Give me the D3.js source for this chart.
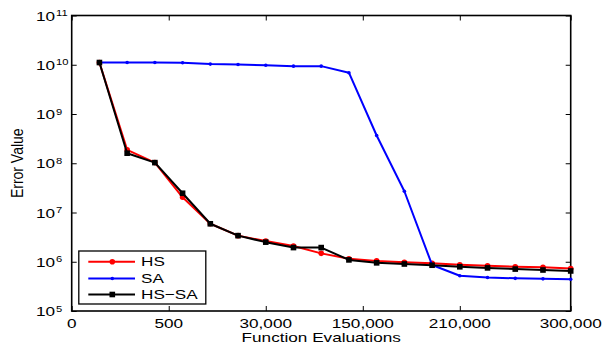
<!DOCTYPE html>
<html>
<head>
<meta charset="utf-8">
<script src="https://cdn.jsdelivr.net/npm/d3@7"></script>
<style>
  html, body { margin: 0; padding: 0; background: #fff; }
  svg { display: block; font-family: "Liberation Sans", Arial, Helvetica, sans-serif; }
</style>
</head>
<body>
<svg id="chart" width="607" height="352"></svg>
<script>
// Sample positions (checkpoint index along the run)
const checkpoints = d3.range(1, 19);

// Tick positions on the index axis and the evaluation counts they stand for
const xTickPositions = [0, 3.5, 7, 10.5, 14, 18];
const xTickLabels = ["0", "500", "30,000", "150,000", "210,000", "300,000"];

// Decade ticks on the error axis
const yTickExponents = [5, 6, 7, 8, 9, 10, 11];

const seriesNames = ["HS", "SA", "HS\u2212SA"];

const hsValues = [1.11e10, 1.87e8, 1.03e8, 2.04e7, 5.9e6, 3.39e6, 2.63e6, 2.09e6, 1.48e6,
                  1.15e6, 1.04e6, 9.8e5, 9.3e5, 8.7e5, 8.3e5, 7.9e5, 7.7e5, 7.3e5];
const saValues = [1.11e10, 1.11e10, 1.11e10, 1.1e10, 1.03e10, 1.01e10, 9.8e9, 9.37e9, 9.37e9,
                  6.9e9, 3.66e8, 2.7e7, 8.6e5, 5.2e5, 4.8e5, 4.6e5, 4.5e5, 4.4e5];
const hssaValues = [1.11e10, 1.6e8, 1.03e8, 2.46e7, 5.9e6, 3.39e6, 2.5e6, 1.94e6, 1.94e6,
                    1.09e6, 9.5e5, 9.0e5, 8.5e5, 7.9e5, 7.5e5, 7.1e5, 6.8e5, 6.5e5];

const svg = d3.select("#chart");
const plotLeft = 71.7, plotRight = 570.7, plotTop = 15.5, plotBottom = 311;
const stretch = 1.32;

const x = d3.scaleLinear().domain([0, 18]).range([plotLeft, plotRight]);
const y = d3.scaleLog().domain([1e5, 1e11]).range([plotBottom, plotTop]);

const series = [
  { name: seriesNames[0], values: hsValues, color: "#ff0000", marker: "circle" },
  { name: seriesNames[1], values: saValues, color: "#0000ff", marker: "dot" },
  { name: seriesNames[2], values: hssaValues, color: "#000000", marker: "square" }
];

// Axis frame with inward ticks on all four sides
const tickLen = 5;
const yTicks = yTickExponents.map(e => Math.pow(10, e));
const bottomAxis = d3.axisBottom(x).tickValues(xTickPositions).tickSize(-tickLen).tickFormat("");
const topAxis = d3.axisTop(x).tickValues(xTickPositions).tickSize(-tickLen).tickFormat("");
const leftAxis = d3.axisLeft(y).tickValues(yTicks).tickSize(-tickLen).tickFormat("");
const rightAxis = d3.axisRight(y).tickValues(yTicks).tickSize(-tickLen).tickFormat("");

function styleAxis(g) {
  g.select(".domain").remove();
  g.selectAll(".tick line").attr("stroke", "#000").attr("stroke-width", 1);
}
svg.append("g").attr("transform", `translate(0,${plotBottom})`).call(bottomAxis).call(styleAxis);
svg.append("g").attr("transform", `translate(0,${plotTop})`).call(topAxis).call(styleAxis);
svg.append("g").attr("transform", `translate(${plotLeft},0)`).call(leftAxis).call(styleAxis);
svg.append("g").attr("transform", `translate(${plotRight},0)`).call(rightAxis).call(styleAxis);

svg.append("rect")
  .attr("x", plotLeft).attr("y", plotTop)
  .attr("width", plotRight - plotLeft).attr("height", plotBottom - plotTop)
  .attr("fill", "none").attr("stroke", "#000").attr("stroke-width", 1.6);

// Lines and markers
const line = d3.line().x((d, i) => x(checkpoints[i])).y(d => y(d));

function drawMarker(g, type, color, cx, cy) {
  if (type === "circle") {
    g.append("circle").attr("cx", cx).attr("cy", cy).attr("r", 2.8).attr("fill", color);
  } else if (type === "dot") {
    g.append("circle").attr("cx", cx).attr("cy", cy).attr("r", 1.8).attr("fill", color);
  } else {
    g.append("rect").attr("x", cx - 2.8).attr("y", cy - 2.8)
      .attr("width", 5.6).attr("height", 5.6).attr("fill", color);
  }
}

series.forEach(s => {
  const g = svg.append("g");
  g.append("path").datum(s.values)
    .attr("d", line).attr("fill", "none")
    .attr("stroke", s.color).attr("stroke-width", 2)
    .attr("stroke-linejoin", "round");
  s.values.forEach((v, i) => drawMarker(g, s.marker, s.color, x(checkpoints[i]), y(v)));
});

// Horizontally widened text, as the figure's lettering is
function stretchedText(parent, tx, ty, str, size, anchor) {
  return parent.append("text")
    .attr("transform", `translate(${tx},${ty}) scale(${stretch},1)`)
    .attr("font-size", size)
    .attr("text-anchor", anchor || "start")
    .text(str);
}

// Tick labels
xTickPositions.forEach((p, i) => {
  stretchedText(svg, x(p), 327.7, xTickLabels[i], 13, "middle");
});

yTickExponents.forEach(e => {
  const ty = y(Math.pow(10, e));
  stretchedText(svg, 36, ty + 5, "10", 13, "start");
  stretchedText(svg, 56, ty + 0.5, String(e), 8.5, "start");
});

// Axis titles
stretchedText(svg, (plotLeft + plotRight) / 2, 342.3, "Function Evaluations", 13, "middle");
svg.append("text")
  .attr("transform", `translate(23,${(plotTop + plotBottom) / 2}) rotate(-90) scale(1,1.15)`)
  .attr("font-size", 14)
  .attr("text-anchor", "middle")
  .text("Error Value");

// Legend
const legend = svg.append("g");
legend.append("rect")
  .attr("x", 78.8).attr("y", 251).attr("width", 127).attr("height", 53)
  .attr("fill", "#fff").attr("stroke", "#000").attr("stroke-width", 1.3);
const legendRows = [261.7, 278.5, 294.5];
series.forEach((s, i) => {
  const ly = legendRows[i];
  legend.append("line")
    .attr("x1", 88.3).attr("x2", 135).attr("y1", ly).attr("y2", ly)
    .attr("stroke", s.color).attr("stroke-width", 2);
  drawMarker(legend, s.marker, s.color, 112.3, ly);
  stretchedText(legend, 141, ly + 4.7, s.name, 13, "start");
});
</script>
</body>
</html>
